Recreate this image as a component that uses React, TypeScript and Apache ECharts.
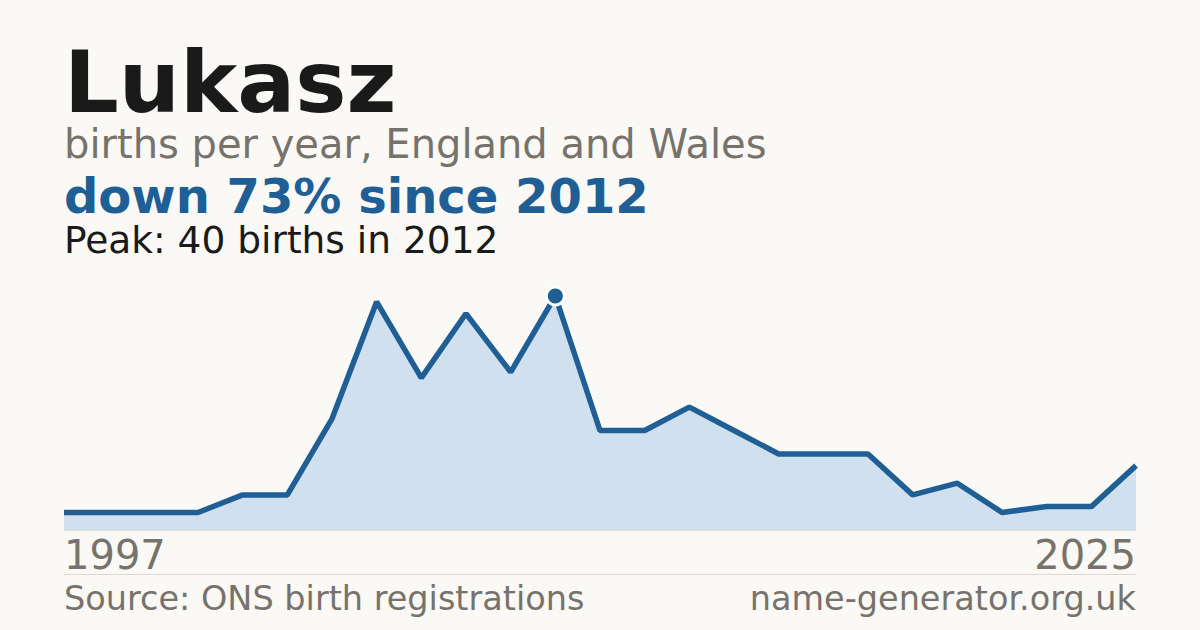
import {useEffect, useRef} from 'react';
import * as echarts from 'echarts';

// years with a published count (gaps are suppressed years)
const years = [
    '1997', '1999', '2001', '2004', '2005', '2006', '2007', '2008', '2009', '2010', '2011',
    '2012', '2013', '2014', '2015', '2016', '2017', '2018', '2019', '2020', '2021', '2022',
    '2023', '2024', '2025',
];
const births = [3, 3, 3, 3, 6, 6, 19, 39, 26, 37, 27, 40, 17, 17, 21, 17, 13, 13, 13, 6, 8, 3, 4, 4, 11];

const name = 'Lukasz';
const subtitle = 'births per year, England and Wales';
const source = 'Source: ONS birth registrations';
const site = 'name-generator.org.uk';

const FONT = 'DejaVu Sans';
const BLUE = '#1f5f96';
const GREY = '#77736c';
const INK = '#1a1a1a';

const App = () => {
    const chartRef = useRef<HTMLDivElement>(null);

    useEffect(() => {
        const chart = echarts.init(chartRef.current!, null, {renderer: 'svg'});

        const peak = Math.max(...births);
        const peakIdx = births.indexOf(peak);
        const peakYear = years[peakIdx];
        const last = births[births.length - 1];
        const change = Math.round((1 - last / peak) * 100);
        const lastIdx = years.length - 1;

        chart.setOption({
            animation: false,
            backgroundColor: '#faf9f5',
            textStyle: {fontFamily: FONT},
            grid: {left: 64, right: 64, top: 296, bottom: 100},
            xAxis: {
                type: 'category',
                data: years,
                boundaryGap: false,
                axisLine: {show: true, lineStyle: {color: '#e2ded6', width: 1}},
                axisTick: {show: false},
                axisLabel: {
                    interval: (i: number) => i === 0 || i === lastIdx,
                    color: GREY,
                    fontSize: 40,
                    fontFamily: FONT,
                    margin: 5,
                    alignMinLabel: 'left',
                    alignMaxLabel: 'right',
                },
                splitLine: {show: false},
            },
            yAxis: {
                type: 'value',
                min: 0,
                max: peak,
                show: false,
            },
            series: [
                {
                    type: 'line',
                    data: births.map((v, i) =>
                        i === peakIdx
                            ? {
                                  value: v,
                                  symbol: 'circle',
                                  symbolSize: 18,
                                  itemStyle: {color: BLUE, borderColor: '#ffffff', borderWidth: 3},
                              }
                            : {value: v, symbol: 'none'},
                    ),
                    showSymbol: true,
                    lineStyle: {color: BLUE, width: 5.5},
                    itemStyle: {color: BLUE},
                    areaStyle: {color: '#d0e0ef', opacity: 1},
                    z: 3,
                },
            ],
            graphic: [
                {
                    type: 'text',
                    x: 64,
                    y: 82,
                    style: {
                        text: name,
                        font: `bold 86px "${FONT}"`,
                        fill: INK,
                        verticalAlign: 'middle',
                        lineHeight: 74,
                    },
                },
                {
                    type: 'text',
                    x: 64,
                    y: 144,
                    style: {
                        text: subtitle,
                        font: `40px "${FONT}"`,
                        fill: GREY,
                        verticalAlign: 'middle',
                        lineHeight: 38,
                    },
                },
                {
                    type: 'text',
                    x: 64,
                    y: 196,
                    style: {
                        text: `down ${change}% since ${peakYear}`,
                        font: `bold 48px "${FONT}"`,
                        fill: BLUE,
                        verticalAlign: 'middle',
                        lineHeight: 38,
                    },
                },
                {
                    type: 'text',
                    x: 64,
                    y: 240,
                    style: {
                        text: `Peak: ${peak} births in ${peakYear}`,
                        font: `37.5px "${FONT}"`,
                        fill: INK,
                        verticalAlign: 'middle',
                        lineHeight: 32,
                    },
                },
                {
                    type: 'line',
                    shape: {x1: 64, y1: 574.5, x2: 1136, y2: 574.5},
                    style: {stroke: '#dcd8d0', lineWidth: 1},
                },
                {
                    type: 'text',
                    x: 64,
                    y: 598,
                    style: {text: source, font: `33.5px "${FONT}"`, fill: GREY, verticalAlign: 'middle'},
                },
                {
                    type: 'text',
                    x: 1136,
                    y: 598,
                    style: {
                        text: site,
                        font: `33.5px "${FONT}"`,
                        fill: GREY,
                        align: 'right',
                        verticalAlign: 'middle',
                    },
                },
            ],
        });

        return () => {
            chart.dispose();
        };
    }, []);

    return (
        <div
            ref={chartRef}
            style={{position: 'fixed', left: 0, top: 0, width: '1200px', height: '630px'}}
        />
    );
};

export default App;
